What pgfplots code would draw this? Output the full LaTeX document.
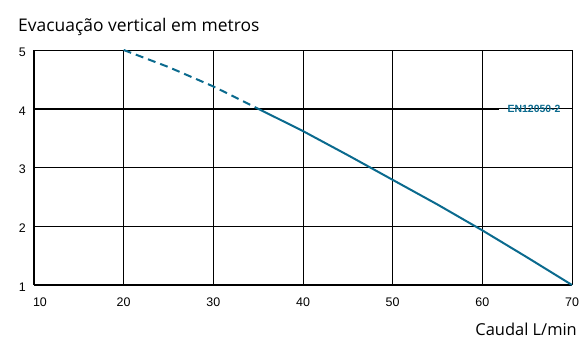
\documentclass[border=0pt]{standalone}
\usepackage{pgfplots}
\pgfplotsset{compat=1.18}
\usepackage{fontspec}
\setmainfont{Liberation Sans}
\newfontfamily\titlefont{Open Sans}
\definecolor{curve}{HTML}{0A6A8E}
\begin{document}
\begin{tikzpicture}[x=1bp,y=1bp]
\useasboundingbox (-34,-53) rectangle (551,285);
\begin{axis}[
  at={(0,0)}, anchor=south west,
  scale only axis, width=538bp, height=235bp,
  xmin=10, xmax=70, ymin=1, ymax=5,
  xtick={10,20,...,70}, ytick={1,2,3,4,5},
  xticklabels={\hspace*{12bp}10,20,30,40,50,60,70},
  axis lines=left,
  axis line style={-, line width=2.6bp},
  major tick length=0pt,
  grid=major,
  grid style={black, line width=0.8bp},
  tick label style={font=\fontsize{12.5}{13}\selectfont, inner sep=0pt},
  xticklabel style={anchor=north, yshift=-13bp},
  yticklabel style={anchor=east, xshift=-8bp, yshift=-2bp},
  /pgf/number format/assume math mode=true,
  clip=false,
]
\addplot[black, line width=2.2bp] coordinates {(10,4) (61.9,4)};
\addplot[curve, line width=2bp, dash pattern=on 8bp off 5bp] coordinates {
(20,5) (25,4.71) (30,4.38) (35,4.0)};
\addplot[curve, line width=2bp] coordinates {
(35,4.0) (40,3.62) (45,3.21) (50,2.79) (55,2.37) (60,1.93) (65,1.47) (70,1)};
\node[anchor=west, text=curve, font=\fontsize{10.5}{12}\selectfont\bfseries, inner sep=0] at (axis cs:62.8,4) {EN12050-2};
\end{axis}
\node[anchor=base west, inner sep=0, font=\titlefont\fontsize{17.5}{20}\selectfont] at (-16,254) {Evacuação vertical em metros};
\node[anchor=base east, inner sep=0, font=\titlefont\fontsize{16.5}{19}\selectfont] at (543,-50) {Caudal L/min};
\end{tikzpicture}
\end{document}
